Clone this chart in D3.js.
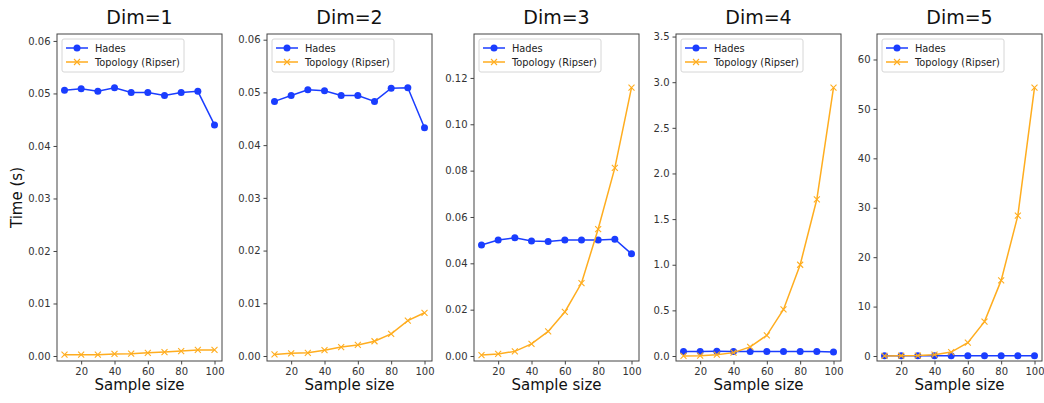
<!DOCTYPE html>
<html>
<head>
<meta charset="utf-8">
<script src="https://cdn.jsdelivr.net/npm/d3@7"></script>
<style>
  body { margin: 0; background: #fff; }
  svg { font-family: "DejaVu Sans", sans-serif; }
</style>
</head>
<body>
<svg width="1044" height="403"></svg>
<script>
var sampleSizes = [10, 20, 30, 40, 50, 60, 70, 80, 90, 100];
var dimTitles = ["Dim=1", "Dim=2", "Dim=3", "Dim=4", "Dim=5"];

var hadesDim1 = [0.0506, 0.0509, 0.0504, 0.0511, 0.0502, 0.0502, 0.0496, 0.0502, 0.0504, 0.0440];
var hadesDim2 = [0.0483, 0.0494, 0.0505, 0.0503, 0.0494, 0.0494, 0.0483, 0.0508, 0.0509, 0.0433];
var hadesDim3 = [0.0479, 0.0501, 0.0510, 0.0496, 0.0494, 0.0501, 0.0501, 0.0501, 0.0504, 0.0441];
var hadesDim4 = [0.049, 0.050, 0.051, 0.050, 0.049, 0.050, 0.050, 0.049, 0.050, 0.044];
var hadesDim5 = [0.048, 0.050, 0.051, 0.050, 0.049, 0.050, 0.050, 0.050, 0.050, 0.044];

var ripserDim1 = [0.00025, 0.00025, 0.00025, 0.0004, 0.00045, 0.0006, 0.00075, 0.00095, 0.00115, 0.00115];
var ripserDim2 = [0.0003, 0.0005, 0.0006, 0.0011, 0.0017, 0.0021, 0.0028, 0.0042, 0.0067, 0.0082];
var ripserDim3 = [0.0004, 0.0009, 0.0020, 0.0052, 0.0106, 0.0190, 0.0315, 0.0548, 0.0812, 0.1158];
var ripserDim4 = [0.001, 0.004, 0.015, 0.037, 0.10, 0.227, 0.51, 1.0, 1.717, 2.94];
var ripserDim5 = [0.01, 0.05, 0.1, 0.27, 0.8, 2.7, 6.96, 15.3, 28.4, 54.3];

var hades = [hadesDim1, hadesDim2, hadesDim3, hadesDim4, hadesDim5];
var ripser = [ripserDim1, ripserDim2, ripserDim3, ripserDim4, ripserDim5];

var blue = "#1a3dff", orange = "#ffad1f";

var svg = d3.select("svg");

// panel layout
var lefts = [57, 267, 474, 676, 877],
    pw = 165,
    plotTop = 34,
    plotBottom = 361;

dimTitles.forEach(function(title, i) {
  var left = lefts[i];
  var yTop = 1.2 * d3.max(hades[i].concat(ripser[i]));

  var x = d3.scaleLinear().domain([5.5, 104.5]).range([left, left + pw]);
  var y = d3.scaleLinear().domain([-yTop * 0.0155, yTop]).range([plotBottom, plotTop]);

  var g = svg.append("g");

  // axes
  var xAxis = g.append("g")
    .attr("transform", "translate(0," + plotBottom + ")")
    .call(d3.axisBottom(x).ticks(5).tickSize(3.5).tickPadding(3));
  var yAxis = g.append("g")
    .attr("transform", "translate(" + left + ",0)")
    .call(d3.axisLeft(y).ticks(7).tickSize(3.5).tickPadding(3));

  [xAxis, yAxis].forEach(function(a) {
    a.select(".domain").remove();
    a.selectAll("text").attr("font-size", 10).attr("fill", "#333")
      .attr("font-family", "DejaVu Sans");
    a.selectAll("line").attr("stroke", "#444");
  });

  g.append("rect")
    .attr("x", left).attr("y", plotTop)
    .attr("width", pw).attr("height", plotBottom - plotTop)
    .attr("fill", "none").attr("stroke", "#444").attr("stroke-width", 1);

  // lines
  var line = function(vals) {
    return d3.line()
      .x(function(d, k) { return x(sampleSizes[k]); })
      .y(function(d) { return y(d); })(vals);
  };

  g.append("path").attr("d", line(hades[i]))
    .attr("fill", "none").attr("stroke", blue).attr("stroke-width", 1.5);
  g.selectAll(".hpt").data(hades[i]).enter().append("circle")
    .attr("cx", function(d, k) { return x(sampleSizes[k]); })
    .attr("cy", function(d) { return y(d); })
    .attr("r", 3.5)
    .attr("fill", blue);

  g.append("path").attr("d", line(ripser[i]))
    .attr("fill", "none").attr("stroke", orange).attr("stroke-width", 1.5);
  g.selectAll(".rpt").data(ripser[i]).enter().append("path")
    .attr("transform", function(d, k) { return "translate(" + x(sampleSizes[k]) + "," + y(d) + ")"; })
    .attr("d", "M-3,-3L3,3M-3,3L3,-3")
    .attr("stroke", orange).attr("stroke-width", 1.1);

  // legend
  var lg = g.append("g").attr("transform", "translate(" + (left + 5) + "," + (plotTop + 5) + ")");
  lg.append("rect")
    .attr("width", 122).attr("height", 33).attr("rx", 2)
    .attr("fill", "#fff").attr("fill-opacity", 0.8)
    .attr("stroke", "#d6d6d6");
  lg.append("line").attr("x1", 4).attr("x2", 26).attr("y1", 9).attr("y2", 9)
    .attr("stroke", blue).attr("stroke-width", 1.5);
  lg.append("circle").attr("cx", 15).attr("cy", 9).attr("r", 3.5).attr("fill", blue);
  lg.append("line").attr("x1", 4).attr("x2", 26).attr("y1", 23).attr("y2", 23)
    .attr("stroke", orange).attr("stroke-width", 1.5);
  lg.append("path").attr("transform", "translate(15,23)")
    .attr("d", "M-3,-3L3,3M-3,3L3,-3").attr("stroke", orange).attr("stroke-width", 1.1);
  lg.append("text").attr("x", 33).attr("y", 12.6).attr("font-size", 9.8).attr("fill", "#222").text("Hades");
  lg.append("text").attr("x", 33).attr("y", 26.6).attr("font-size", 9.8).attr("fill", "#222").text("Topology (Ripser)");

  // title and x label
  g.append("text")
    .attr("x", left + pw / 2).attr("y", 24)
    .attr("text-anchor", "middle").attr("font-size", 19).attr("fill", "#111")
    .text(title);
  g.append("text")
    .attr("x", left + pw / 2).attr("y", 390)
    .attr("text-anchor", "middle").attr("font-size", 15).attr("fill", "#111")
    .text("Sample size");
});

svg.append("text")
  .attr("transform", "translate(22," + ((plotTop + plotBottom) / 2) + ") rotate(-90)")
  .attr("text-anchor", "middle").attr("font-size", 15).attr("fill", "#111")
  .text("Time (s)");
</script>
</body>
</html>
